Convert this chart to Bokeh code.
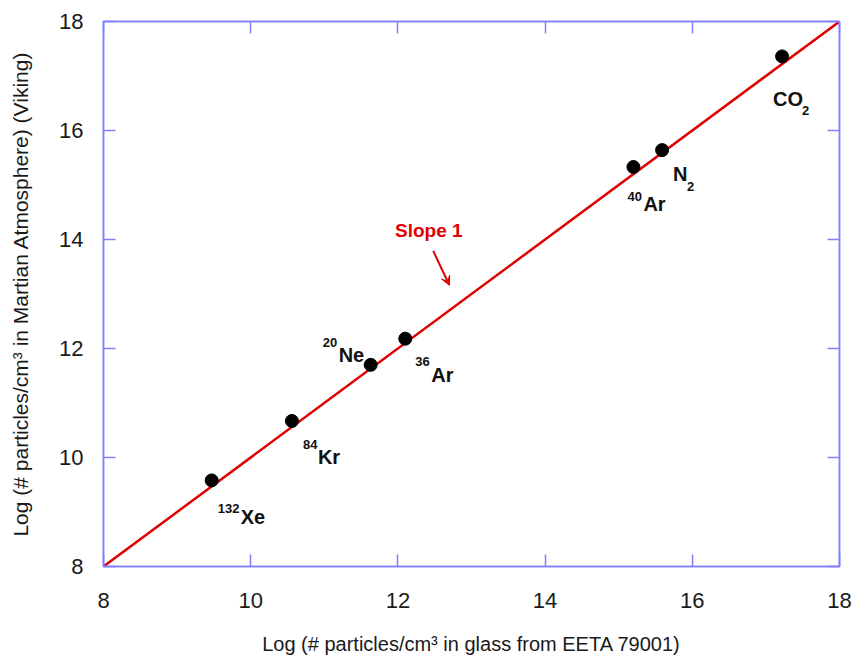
from bokeh.plotting import figure
from bokeh.models import (Range1d, FixedTicker, LinearAxis, CustomJSTickFormatter,
                          ColumnDataSource, Arrow, VeeHead, Label)
from bokeh.core.properties import value
from bokeh.embed import file_html
from bokeh.resources import INLINE

# ---------------- data ----------------
species = ["CO2", "N2", "40Ar", "36Ar", "20Ne", "84Kr", "132Xe"]
glass_log = [17.22, 15.59, 15.20, 12.10, 11.63, 10.56, 9.47]   # Log(# particles/cm3 in EETA 79001 glass)
mars_log = [17.36, 15.64, 15.33, 12.18, 11.70, 10.67, 9.58]    # Log(# particles/cm3 in Martian atmosphere)
label_main = ["CO", "N", "Ar", "Ar", "Ne", "Kr", "Xe"]
label_sup = ["", "", "40", "36", "20", "84", "132"]
label_sub = ["2", "2", "", "", "", "", ""]

slope_line_x = [8, 18]
slope_line_y = [8, 18]
slope_text = "Slope 1"
slope_text_pos = (12.42, 14.17)
arrow_start = (12.48, 13.79)
arrow_end = (12.70, 13.16)

ticks = [8, 10, 12, 14, 16, 18]
x_title = "Log (# particles/cm³ in glass from EETA 79001)"
y_title = "Log (# particles/cm³ in Martian Atmosphere) (Viking)"

# ---------------- layout / style (pixel offsets of labels from points) ----------------
main_dx = [-9, 11, 10, 26, -32, 26, 29]
main_dy = [43, 24, 37, 36, -10, 36, 37]
sup_dx = [0, 0, -6, 10, -48, 11, 6]
sup_dy = [0, 0, 29, 23, -22, 24, 28]
sub_dx = [20, 25, 0, 0, 0, 0, 0]
sub_dy = [54, 36, 0, 0, 0, 0, 0]

FRAME = "#8080ff"
RED = "#e00000"
FONT = "Liberation Sans"

p = figure(width=852, height=657, x_range=Range1d(8, 18), y_range=Range1d(8, 18),
           output_backend="svg", toolbar_location=None,
           min_border_left=103, min_border_right=13, min_border_top=21, min_border_bottom=90)
p.xgrid.visible = False
p.ygrid.visible = False
p.outline_line_color = FRAME
p.outline_line_width = 1.5
p.background_fill_color = "white"
p.border_fill_color = "white"


def style_axis(ax, labels=True):
    ax.ticker = FixedTicker(ticks=ticks)
    ax.axis_line_color = FRAME
    ax.axis_line_width = 1.5
    ax.major_tick_line_color = FRAME
    ax.major_tick_line_width = 1.5
    ax.major_tick_in = 12
    ax.major_tick_out = 0
    ax.minor_tick_line_color = None
    ax.major_label_text_font = FONT
    ax.major_label_text_font_size = "22px"
    ax.major_label_text_color = "#1a1a1a"
    ax.axis_label_text_font = FONT
    ax.axis_label_text_font_size = "20px"
    ax.axis_label_text_font_style = "normal"
    ax.axis_label_text_color = "#1a1a1a"
    if not labels:
        ax.formatter = CustomJSTickFormatter(code="return ''")
        ax.major_label_standoff = 0
        ax.major_label_text_font_size = "1px"


style_axis(p.xaxis[0])
style_axis(p.yaxis[0])
p.xaxis[0].axis_label = x_title
p.yaxis[0].axis_label = y_title
p.yaxis[0].axis_label_text_font_size = "21px"
p.xaxis[0].major_label_standoff = 26
p.yaxis[0].major_label_standoff = 20
p.xaxis[0].axis_label_standoff = 22
p.yaxis[0].axis_label_standoff = 24

top_ax = LinearAxis()
right_ax = LinearAxis()
style_axis(top_ax, labels=False)
style_axis(right_ax, labels=False)
p.add_layout(top_ax, "above")
p.add_layout(right_ax, "right")

# slope-1 line
p.line(slope_line_x, slope_line_y, line_color=RED, line_width=2.5)

# points
src = ColumnDataSource(dict(x=glass_log, y=mars_log, name=species,
                            main=label_main, sup=label_sup, sub=label_sub,
                            mdx=main_dx, mdy=main_dy, sdx=sup_dx, sdy=sup_dy,
                            bdx=sub_dx, bdy=sub_dy))
p.scatter("x", "y", source=src, size=13, color="black")

p.text("x", "y", text="main", source=src, x_offset="mdx", y_offset="mdy",
       text_font=value(FONT), text_font_style="bold", text_font_size="20px",
       text_color="#111111", text_align="left", text_baseline="alphabetic")
p.text("x", "y", text="sup", source=src, x_offset="sdx", y_offset="sdy",
       text_font=value(FONT), text_font_style="bold", text_font_size="13px",
       text_color="#111111", text_align="left", text_baseline="alphabetic")
p.text("x", "y", text="sub", source=src, x_offset="bdx", y_offset="bdy",
       text_font=value(FONT), text_font_style="bold", text_font_size="13px",
       text_color="#111111", text_align="left", text_baseline="alphabetic")

# slope annotation
p.add_layout(Label(x=slope_text_pos[0], y=slope_text_pos[1], text=slope_text,
                   text_font=FONT, text_font_style="bold", text_font_size="19px",
                   text_color=RED, text_align="center", text_baseline="alphabetic"))
p.add_layout(Arrow(x_start=arrow_start[0], y_start=arrow_start[1],
                   x_end=arrow_end[0], y_end=arrow_end[1],
                   line_color=RED, line_width=2,
                   end=VeeHead(size=9, fill_color=RED, line_color=RED)))

open("out.html", "w").write(file_html(p, INLINE))
